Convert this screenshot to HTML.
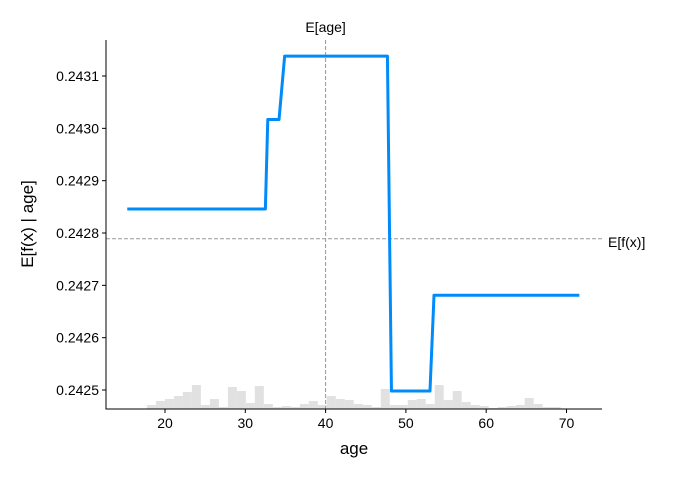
<!DOCTYPE html>
<html><head><meta charset="utf-8"><style>
body{margin:0;background:#fff;}
svg{display:block;font-family:"Liberation Sans","DejaVu Sans",sans-serif;}
</style></head><body>
<svg id="chart" width="675" height="477" viewBox="0 0 675 477"></svg>
<script>
const xTicks=[20,30,40,50,60,70];
const yTicks=[0.2425,0.2426,0.2427,0.2428,0.2429,0.2430,0.2431];
const lineAges=[15.3,32.5,32.8,34.2,34.9,47.7,48.2,53.0,53.5,71.6];
const lineValues=[0.242846,0.242846,0.243017,0.243017,0.243138,0.243138,0.242498,0.242498,0.242681,0.242681];
const histStart=17.75;
const histBinWidth=1.12;
const histCounts=[4,8,10,13,17,24,4,10,2,22,18,6,23,5,2,3,2,5,8,4,13,10,9,5,4,2,20,4,4,9,10,5,24,9,18,7,4,3,1,2,3,4,11,5,2,2];
const expectedValue=0.242789;
const expectedAge=40;

const L=106,R=602,T=40,B=409;
const xs=a=>165+(a-20)*8.03;
const ys=v=>390-(v-0.2425)/0.0001*52.33;
const hs=c=>c*1.0;
const svg=document.getElementById('chart');
const NS='http://www.w3.org/2000/svg';
function mk(tag,attrs,parent){const e=document.createElementNS(NS,tag);for(const k in attrs)e.setAttribute(k,attrs[k]);(parent||svg).appendChild(e);return e;}

// histogram
const hg=mk('g',{});


histCounts.forEach((c,i)=>{
  const x0=xs(histStart+i*histBinWidth),x1=xs(histStart+(i+1)*histBinWidth);
  const r=mk('rect',{x:x0,y:B-hs(c),width:x1-x0,height:hs(c),fill:'#e1e1e1'},hg);
  
  
});

// expected lines
const ev=mk('line',{x1:L,x2:R,y1:ys(expectedValue),y2:ys(expectedValue),stroke:'#999',"stroke-width":1,"stroke-dasharray":"4,2"});


const ea=mk('line',{x1:xs(expectedAge),x2:xs(expectedAge),y1:T,y2:B,stroke:'#999',"stroke-width":1,"stroke-dasharray":"4,2"});



// line
const pts=lineAges.map((a,i)=>xs(a)+','+ys(lineValues[i])).join(' ');
const pl=mk('polyline',{points:pts,fill:'none',stroke:'#008bfb','stroke-width':3,'stroke-linejoin':'round'});



// axes
const ax=mk('path',{d:`M${L},${T} V${B} H${R}`,fill:'none',stroke:'#000','stroke-width':1});


xTicks.forEach(t=>{
  const x=xs(t);
  mk('line',{x1:x,x2:x,y1:B,y2:B+4,stroke:'#000'});
  const tx=mk('text',{x:x,y:B+19,'text-anchor':'middle','font-size':14,fill:'#000'});
  tx.textContent=t;
  
  
});
yTicks.forEach(t=>{
  const y=ys(t);
  mk('line',{x1:L-4,x2:L,y1:y,y2:y,stroke:'#000'});
  const tx=mk('text',{x:L-7,y:y+5,'text-anchor':'end','font-size':14,fill:'#000'});
  tx.textContent=t.toFixed(4);
  
  
});
const xl=mk('text',{x:354,y:454,'text-anchor':'middle','font-size':17,fill:'#000'});
xl.textContent='age';


const yl=mk('text',{x:0,y:0,'text-anchor':'middle','font-size':17,fill:'#000',transform:`translate(33,224) rotate(-90)`});
yl.textContent='E[f(x) | age]';


const el1=mk('text',{x:608,y:ys(expectedValue)+8,'font-size':14,fill:'#000'});
el1.textContent='E[f(x)]';


const el2=mk('text',{x:xs(expectedAge),y:32,'text-anchor':'middle','font-size':14,fill:'#000'});
el2.textContent='E[age]';


</script>
</body></html>
